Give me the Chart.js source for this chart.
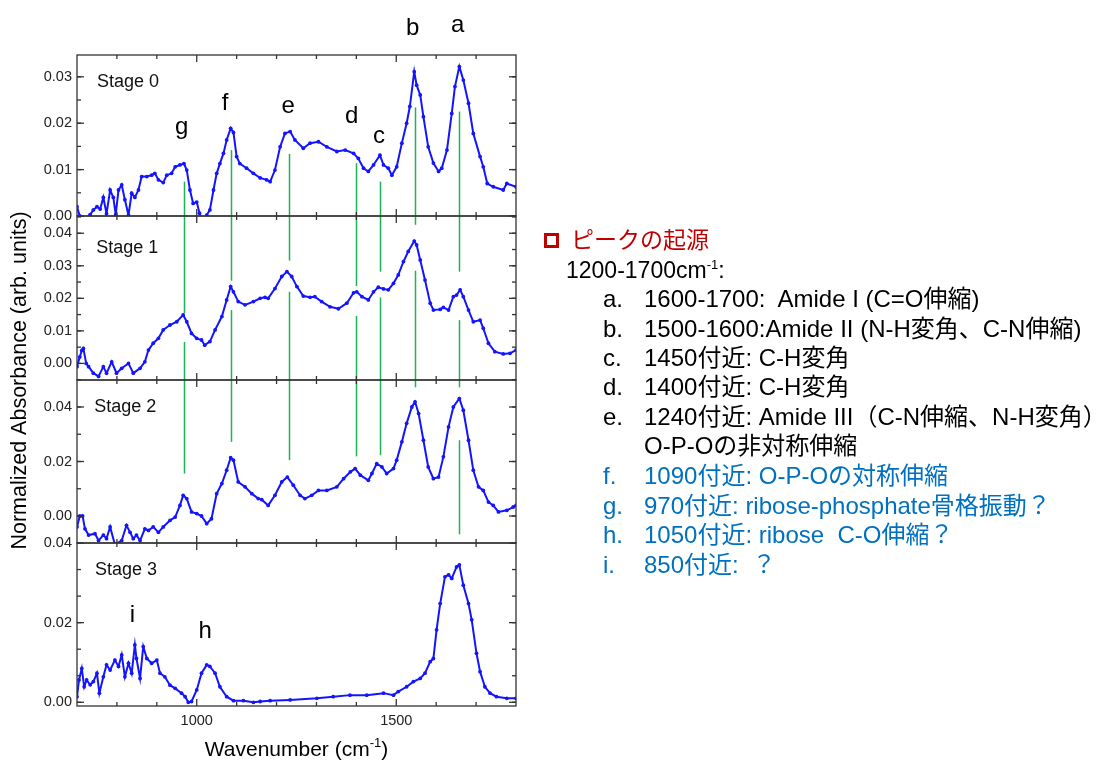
<!DOCTYPE html>
<html>
<head>
<meta charset="utf-8">
<script src="https://cdn.jsdelivr.net/npm/chart.js@4.4.0/dist/chart.umd.min.js"></script>
<style>
body{margin:0;background:#fff;}
#wrap{position:relative;width:1106px;height:762px;overflow:hidden;font-family:"Liberation Sans","Noto Sans CJK JP",sans-serif;}
#c{position:absolute;left:0;top:0;}
.ln{position:absolute;font-size:24px;line-height:30px;white-space:pre;color:#000;}
.hd{font-size:23px;}
.red{color:#c00000;}
.blue{color:#0070c0;}
.sup{font-size:13px;position:relative;top:-9px;}
.sq{position:absolute;width:9px;height:9px;border:3px solid #c00000;}
</style>
</head>
<body>
<div id="wrap">
<canvas id="c" width="1106" height="762"></canvas>
<div class="sq" style="left:544px;top:233px"></div>
<div class="ln hd red" style="left:571px;top:225px">ピークの起源</div>
<div class="ln hd" style="left:566px;top:255px">1200-1700cm<span class="sup">-1</span>:</div>
<div class="ln" style="left:603px;top:284px">a.</div><div class="ln" style="left:644px;top:284px">1600-1700:  Amide I (C=O伸縮)</div>
<div class="ln" style="left:603px;top:314px">b.</div><div class="ln" style="left:644px;top:314px">1500-1600:Amide II (N-H変角、C-N伸縮)</div>
<div class="ln" style="left:603px;top:343px">c.</div><div class="ln" style="left:644px;top:343px">1450付近: C-H変角</div>
<div class="ln" style="left:603px;top:372px">d.</div><div class="ln" style="left:644px;top:372px">1400付近: C-H変角</div>
<div class="ln" style="left:603px;top:402px">e.</div><div class="ln" style="left:644px;top:402px">1240付近: Amide III（C-N伸縮、N-H変角）</div>
<div class="ln" style="left:644px;top:431px">O-P-Oの非対称伸縮</div>
<div class="ln blue" style="left:603px;top:461px">f.</div><div class="ln blue" style="left:644px;top:461px">1090付近: O-P-Oの対称伸縮</div>
<div class="ln blue" style="left:603px;top:491px">g.</div><div class="ln blue" style="left:644px;top:491px">970付近: ribose-phosphate骨格振動？</div>
<div class="ln blue" style="left:603px;top:520px">h.</div><div class="ln blue" style="left:644px;top:520px">1050付近: ribose  C-O伸縮？</div>
<div class="ln blue" style="left:603px;top:550px">i.</div><div class="ln blue" style="left:644px;top:550px">850付近:  ？</div>
</div>
<script>
// ---------- Data (wavenumber cm-1 / normalized absorbance) ----------
const stage0X=[700,707,716,733,741,750,758,766,774,783,
  791,797,804,812,820,829,837,845,854,862,
  875,887,895,904,916,925,937,946,958,968,
  975,983,991,1000,1007,1013,1020,1025,1033,1042,
  1050,1058,1067,1075,1085,1092,1100,1108,1125,1142,
  1159,1175,1184,1196,1209,1221,1234,1246,1267,1284,
  1305,1326,1351,1372,1393,1405,1418,1430,1443,1459,
  1468,1480,1489,1501,1514,1526,1534,1545,1551,1560,
  1568,1580,1593,1606,1614,1627,1639,1647,1658,1668,
  1681,1693,1710,1718,1728,1743,1768,1777,1800];
const stage0Y=[0.002,0.0,-0.0008,0.0003,0.0013,0.002,0.0015,0.004,0.0005,0.0056,
  0.004,0.0003,0.0056,0.0067,0.0035,0.0002,0.0049,0.004,0.0056,0.0085,
  0.0085,0.0088,0.0092,0.0078,0.0072,0.0088,0.0092,0.0106,0.011,0.0113,
  0.0099,0.0056,0.0027,0.003,0.0006,-0.001,-0.001,0.0002,0.0013,0.0056,
  0.0092,0.0113,0.0135,0.0164,0.0189,0.018,0.0128,0.0113,0.0103,0.0092,
  0.0082,0.0078,0.0074,0.0099,0.0149,0.0178,0.0182,0.0164,0.0146,0.0157,
  0.016,0.0149,0.0139,0.0142,0.0135,0.0124,0.0103,0.0096,0.011,0.0131,
  0.011,0.0103,0.0088,0.0106,0.0157,0.02,0.0236,0.0311,0.0282,0.0261,
  0.0214,0.0149,0.0114,0.0096,0.0103,0.0142,0.0221,0.0279,0.0322,0.0293,
  0.0243,0.0178,0.0128,0.0106,0.007,0.0063,0.0056,0.007,0.0063];

const stage1X=[700,707,712,716,723,729,741,754,766,774,
  787,799,812,829,841,858,870,879,891,904,
  916,933,950,966,975,987,1000,1012,1020,1033,
  1046,1063,1075,1085,1092,1104,1121,1142,1159,1171,
  1179,1196,1213,1226,1238,1251,1267,1284,1296,1313,
  1334,1355,1376,1393,1401,1414,1430,1443,1455,1468,
  1480,1493,1505,1518,1530,1545,1551,1560,1572,1585,
  1593,1610,1618,1631,1643,1651,1660,1668,1681,1693,
  1710,1718,1731,1747,1768,1785,1800];
const stage1Y=[-0.001,0.002,0.004,0.0046,0.0,-0.001,-0.003,-0.004,-0.001,-0.003,
  0.0005,-0.003,-0.0015,0.0,-0.003,-0.0015,0.0005,0.0041,0.0062,0.0077,
  0.0103,0.0118,0.0128,0.0149,0.0128,0.0092,0.0077,0.0072,0.0056,0.0067,
  0.0103,0.0144,0.0195,0.0236,0.022,0.019,0.018,0.019,0.02,0.0203,
  0.02,0.023,0.0267,0.0282,0.0267,0.0236,0.0207,0.0203,0.0205,0.019,
  0.0174,0.0168,0.0185,0.0217,0.022,0.0205,0.0195,0.022,0.0234,0.0229,
  0.0226,0.0246,0.0272,0.0313,0.0344,0.0376,0.0364,0.0318,0.0256,0.0185,
  0.0164,0.0166,0.0172,0.0164,0.0205,0.021,0.0226,0.0205,0.0164,0.0128,
  0.0133,0.0108,0.0062,0.0036,0.0029,0.0031,0.0041];

const stage2X=[700,707,714,720,729,745,754,766,774,783,
  795,812,824,833,841,849,858,870,879,891,
  904,916,933,946,958,966,975,987,1000,1012,
  1025,1037,1050,1063,1075,1085,1092,1104,1121,1138,
  1154,1163,1179,1196,1213,1227,1242,1259,1271,1288,
  1305,1326,1351,1368,1385,1397,1410,1430,1439,1451,
  1464,1476,1493,1501,1514,1526,1539,1547,1556,1568,
  1580,1593,1606,1618,1631,1643,1658,1668,1681,1693,
  1706,1718,1731,1743,1756,1777,1793,1800];
const stage2Y=[-0.004,0.0,0.0,-0.0047,-0.007,-0.0065,-0.009,-0.007,-0.0083,-0.004,
  -0.0105,-0.009,-0.0034,-0.006,-0.0083,-0.007,-0.009,-0.0047,-0.0053,-0.004,
  -0.006,-0.004,-0.0016,-0.0004,0.0039,0.0076,0.0064,0.0015,0.0009,0.0,
  -0.0028,-0.001,0.0082,0.0119,0.0168,0.0214,0.0205,0.0125,0.0107,0.0082,
  0.0064,0.006,0.0039,0.0076,0.0125,0.0143,0.0113,0.0076,0.0064,0.0076,
  0.0094,0.0094,0.0107,0.0137,0.0162,0.0174,0.015,0.0131,0.0156,0.0192,
  0.018,0.0156,0.0174,0.0205,0.0272,0.034,0.04,0.0419,0.0376,0.0278,
  0.018,0.0137,0.0143,0.0217,0.0327,0.04,0.0431,0.0388,0.0278,0.0168,
  0.0107,0.0094,0.0051,0.0039,0.0015,0.0021,0.0033,0.0039];

const stage3X=[700,705,712,718,724,733,741,750,756,766,
  774,783,795,804,812,820,829,837,845,849,
  858,866,875,887,900,908,920,933,946,962,
  971,979,987,1000,1012,1025,1033,1046,1058,1075,
  1092,1117,1142,1159,1184,1234,1301,1342,1384,1426,
  1468,1493,1505,1526,1543,1560,1572,1585,1593,1601,
  1610,1622,1631,1639,1651,1658,1668,1681,1689,1701,
  1710,1722,1735,1751,1777,1800];
const stage3Y=[0.0014,0.0056,0.0085,0.0039,0.0056,0.0044,0.0052,0.0073,0.0023,0.0064,
  0.0094,0.0081,0.0106,0.009,0.0119,0.0064,0.0098,0.0073,0.0144,0.011,
  0.006,0.014,0.011,0.0098,0.0106,0.0073,0.0064,0.0043,0.0035,0.0023,
  0.0014,0.0,0.0002,0.0031,0.0073,0.0094,0.009,0.0073,0.0039,0.0014,
  0.0004,0.0004,0.0,0.0002,0.0004,0.0006,0.001,0.0014,0.0018,0.0018,
  0.0023,0.0018,0.0027,0.0039,0.0052,0.006,0.0073,0.0102,0.011,0.0182,
  0.0248,0.0315,0.032,0.0311,0.034,0.0345,0.0294,0.0248,0.0207,0.0123,
  0.0077,0.0039,0.0023,0.0014,0.001,0.001];

const stageNames=["Stage 0","Stage 1","Stage 2","Stage 3"];
const stageLabelX=[750,748,743,745];
const stageLabelY=[0.0289,0.0355,0.040,0.0332];

// peak letters (x, baseline value, panel)
const peakNames=["a","b","c","d","e","f","g","h","i"];
const peakX=[1654,1541,1457,1388,1229,1071,962,1021,839];
const peakY=[0.0397,0.039,0.0157,0.020,0.0222,0.0228,0.0177,0.0161,0.0202];
const peakPanel=[0,0,0,0,0,0,0,3,3];

// green marker segments
const markX=[967,967,1086,1086,1232,1232,1400,1400,1458,1458,1547,1547,1657,1657,1657];
const markFromPanel=[0,1,0,1,0,1,0,1,0,1,0,1,0,1,2];
const markFromY=[0.0074,0.0066,0.0142,0.0164,0.0134,0.0220,0.0114,0.0146,0.0074,0.0203,0.0234,0.0285,0.0225,0.0133,0.0278];
const markToPanel=[1,2,1,2,1,2,1,2,1,2,1,2,1,2,2];
const markToY=[0.0154,0.0156,0.0254,0.0272,0.0316,0.0205,0.0238,0.0219,0.0282,0.0223,0.0426,0.0472,0.0282,0.0472,-0.0067];

// axes
const yMin=[0,-0.0051,-0.0099,-0.00093];
const yMax=[0.0347,0.0453,0.0499,0.04];
const yStep=[0.01,0.01,0.02,0.02];
const yMinor=[0.005,0.005,0.01,0.02/3];
const panelWeight=[161,164,163,163];
const xMin=700,xMax=1800;

const stageX=[stage0X,stage1X,stage2X,stage3X];
const stageY=[stage0Y,stage1Y,stage2Y,stage3Y];
const panelIds=["y0","y1","y2","y3"];
const BLUE="rgb(20,20,255)";
const FRAME="#333";

Chart.defaults.font.family='"Liberation Sans", Arial, sans-serif';

const datasets=stageX.map((xs,i)=>({
  label:stageNames[i],
  data:xs.map((x,j)=>({x:x,y:stageY[i][j]})),
  yAxisID:panelIds[i],
  xAxisID:"x",
  borderColor:BLUE,backgroundColor:BLUE,
  borderWidth:2,pointRadius:1.9,pointBorderWidth:0,tension:0
}));

const scales={
  x:{type:"linear",min:xMin,max:xMax,position:"bottom",
    grid:{display:false,drawTicks:false},border:{display:false},
    afterFit(s){s.height=56;},
    ticks:{stepSize:100,autoSkip:false,maxRotation:0,includeBounds:false,padding:6,color:"#222",font:{size:14.5},
      callback:v=>(v%500===0?String(v):"")}}
};
for(let i=3;i>=0;i--){
  scales[panelIds[i]]={type:"linear",axis:"y",position:"left",stack:"panels",stackWeight:panelWeight[i],
    min:yMin[i],max:yMax[i],
    grid:{display:false,drawTicks:false},border:{display:false},
    afterFit(s){s.width=77;},
    ticks:{stepSize:yStep[i],includeBounds:false,autoSkip:false,padding:5,color:"#222",font:{size:14.5},
      callback:v=>(Math.abs(v)<1e-9?"0.00":v.toFixed(2))}};
}

function tickLine(c,x1,y1,x2,y2){c.beginPath();c.moveTo(x1,y1);c.lineTo(x2,y2);c.stroke();}

const decor={
  id:"decor",
  beforeDatasetDraw(chart,args){
    const ys=chart.scales[panelIds[args.index]],a=chart.chartArea,c=chart.ctx;
    c.save();c.beginPath();c.rect(a.left,ys.top,a.right-a.left,ys.bottom-ys.top);c.clip();
  },
  afterDatasetDraw(chart){chart.ctx.restore();},
  beforeDatasetsDraw(chart){
    const c=chart.ctx,xs=chart.scales.x;
    c.save();c.strokeStyle="#1db35a";c.lineWidth=1.5;
    markX.forEach((mx,k)=>{
      const px=Math.round(xs.getPixelForValue(mx))+0.5;
      const y1=chart.scales[panelIds[markFromPanel[k]]].getPixelForValue(markFromY[k]);
      const y2=chart.scales[panelIds[markToPanel[k]]].getPixelForValue(markToY[k]);
      tickLine(c,px,y1,px,y2);
    });
    c.restore();
  },
  afterDraw(chart){
    const c=chart.ctx,a=chart.chartArea,xs=chart.scales.x;
    c.save();
    c.strokeStyle=FRAME;c.lineWidth=1.3;
    panelIds.forEach((id,i)=>{
      const ys=chart.scales[id];
      c.strokeRect(a.left,ys.top,a.right-a.left,ys.bottom-ys.top);
      // y ticks (inward, both sides)
      ys.ticks.forEach(t=>{const p=ys.getPixelForValue(t.value);
        tickLine(c,a.left,p,a.left+7,p);tickLine(c,a.right,p,a.right-7,p);});
      const st=yMinor[i];
      for(let v=Math.ceil(yMin[i]/st)*st;v<=yMax[i]+1e-9;v+=st){const p=ys.getPixelForValue(v);
        tickLine(c,a.left,p,a.left+4,p);tickLine(c,a.right,p,a.right-4,p);}
      // x ticks at top and bottom of each panel
      for(let v=xMin+100;v<xMax;v+=100){const p=xs.getPixelForValue(v);const L=(v%500===0)?7:4;
        tickLine(c,p,ys.top,p,ys.top+L);tickLine(c,p,ys.bottom,p,ys.bottom-L);}
    });
    // stage labels
    c.fillStyle="#111";c.font='18px "Liberation Sans", Arial, sans-serif';c.textAlign="left";c.textBaseline="middle";
    stageNames.forEach((s,i)=>{c.fillText(s,xs.getPixelForValue(stageLabelX[i]),chart.scales[panelIds[i]].getPixelForValue(stageLabelY[i]));});
    // peak letters
    c.fillStyle="#000";c.font='24px "Liberation Sans", Arial, sans-serif';c.textAlign="center";c.textBaseline="alphabetic";
    peakNames.forEach((s,k)=>{c.fillText(s,xs.getPixelForValue(peakX[k]),chart.scales[panelIds[peakPanel[k]]].getPixelForValue(peakY[k]));});
    // y title
    c.font='21.5px "Liberation Sans", Arial, sans-serif';c.textAlign="center";c.textBaseline="middle";
    c.save();c.translate(20,(a.top+a.bottom)/2);c.rotate(-Math.PI/2);
    c.fillText("Normalized Absorbance (arb. units)",0,0);c.restore();
    // x title with superscript
    const t1="Wavenumber (cm",t2="-1",t3=")";
    c.textAlign="left";c.textBaseline="alphabetic";
    c.font='21px "Liberation Sans", Arial, sans-serif';const w1=c.measureText(t1).width,w3=c.measureText(t3).width;
    c.font='13px "Liberation Sans", Arial, sans-serif';const w2=c.measureText(t2).width;
    let x0=(a.left+a.right)/2-(w1+w2+w3)/2;const base=756;
    c.font='21px "Liberation Sans", Arial, sans-serif';c.fillText(t1,x0,base);
    c.font='13px "Liberation Sans", Arial, sans-serif';c.fillText(t2,x0+w1,base-9);
    c.font='21px "Liberation Sans", Arial, sans-serif';c.fillText(t3,x0+w1+w2,base);
    c.restore();
  }
};

new Chart(document.getElementById("c"),{
  type:"line",
  data:{datasets:datasets},
  options:{responsive:false,animation:false,devicePixelRatio:1,
    layout:{padding:{left:0,top:55,right:590,bottom:0}},
    plugins:{legend:{display:false},tooltip:{enabled:false}},
    scales:scales},
  plugins:[decor]
});
</script>
</body>
</html>
